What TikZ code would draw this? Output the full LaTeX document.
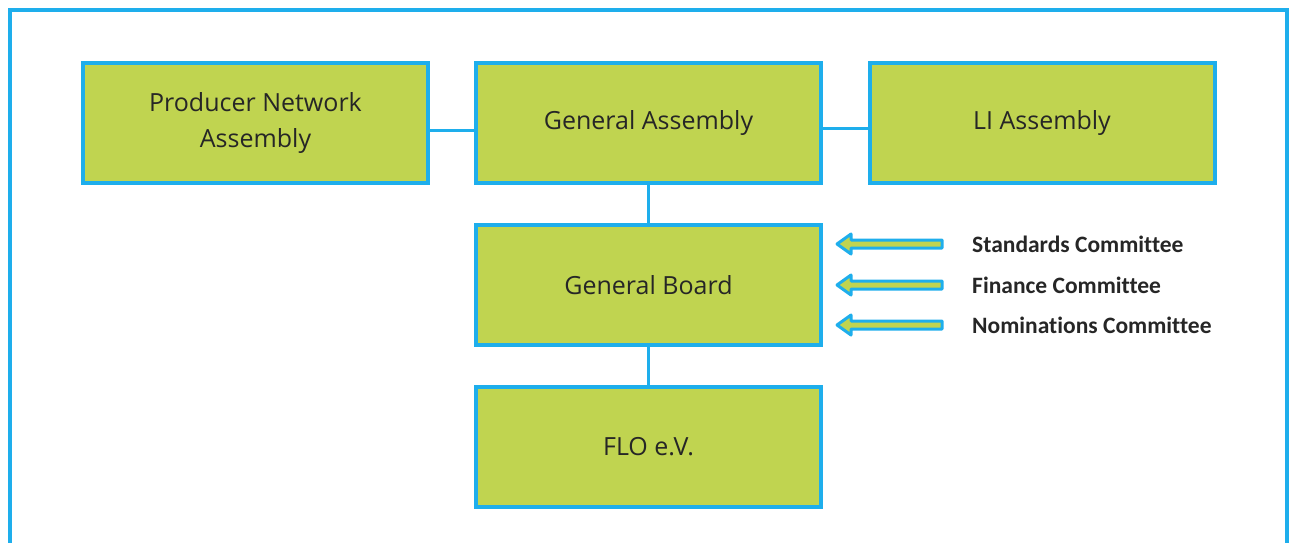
\documentclass[tikz,border=0pt]{standalone}
\usepackage{fontspec}
\setmainfont{Open Sans}
\newfontfamily\calfont[Ligatures=NoCommon]{Carlito}
\definecolor{frameblue}{RGB}{30,174,236}
\definecolor{boxgreen}{RGB}{192,212,80}
\begin{document}
\begin{tikzpicture}[x=1pt,y=-1pt,
  orgbox/.style={draw=frameblue, fill=boxgreen, line width=4pt, minimum width=345pt, minimum height=120pt, inner sep=0pt, align=center, font=\fontsize{25}{36}\selectfont, text=black!85},
  link/.style={draw=frameblue, line width=3pt},
  comarrow/.style={draw=frameblue, fill=boxgreen, line width=3pt, line join=round},
  comlabel/.style={anchor=west, inner sep=0pt, font=\calfont\bfseries\fontsize{23.5}{26}\selectfont, text=black!85}]
\useasboundingbox (0,0) rectangle (1295,543);
\draw[frameblue, line width=4pt] (10,560) -- (10,10) -- (1287,10) -- (1287,560);
\node[orgbox] (pna) at (255.5,123) {Producer Network\\Assembly};
\node[orgbox] (ga) at (648.5,123) {General Assembly};
\node[orgbox] (li) at (1042,123) {LI Assembly};
\node[orgbox] (gb) at (648.5,285) {General Board};
\node[orgbox] (flo) at (648.5,447) {FLO e.V.};
\draw[link] (pna.east |- 0,130) -- (ga.west |- 0,130);
\draw[link] (ga.east |- 0,128) -- (li.west |- 0,128);
\draw[link] (ga.south) -- (gb.north);
\draw[link] (gb.south) -- (flo.north);
\foreach \y/\n/\t in {244/sc/Standards Committee, 285/fc/Finance Committee, 325/nc/Nominations Committee}{
  \draw[comarrow] (942,\y-4) -- (851,\y-4) -- (851,\y-10) -- (837,\y) -- (851,\y+10) -- (851,\y+4) -- (942,\y+4) -- cycle;
  \node[comlabel] (\n) at (972,\y) {\t};
}
\end{tikzpicture}
\end{document}
